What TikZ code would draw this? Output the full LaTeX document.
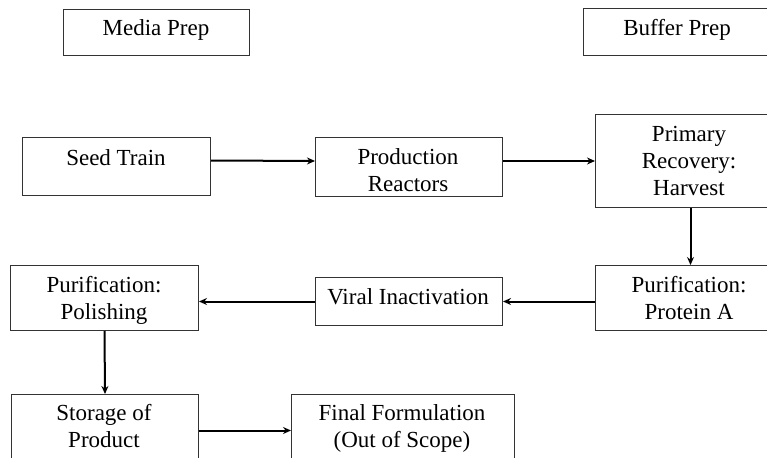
\documentclass[tikz,border=0pt]{standalone}
\usepackage{fontspec}
\setmainfont{Liberation Serif}
\usetikzlibrary{arrows.meta}
\begin{document}
\begin{tikzpicture}[x=1pt,y=-1pt,
 box/.style={draw=black!80, line width=1pt, anchor=north west, inner sep=0pt},
 lbl/.style={font=\fontsize{23}{27}\selectfont, align=center, anchor=base, inner sep=0pt},
 arr/.style={-{Stealth[length=8pt,width=7pt]}, line width=2pt}]
\useasboundingbox (0,0) rectangle (767,457);
\clip (0,0) rectangle (767,457);
% boxes
\node[box, minimum width=186pt, minimum height=46pt] (media) at (63,9) {};
\node[box, minimum width=200pt, minimum height=47pt] (buffer) at (583,8) {};
\node[box, minimum width=188pt, minimum height=58pt] (seed) at (22,137) {};
\node[box, minimum width=187pt, minimum height=59pt] (prod) at (315,137) {};
\node[box, minimum width=190pt, minimum height=93pt] (prim) at (595,114) {};
\node[box, minimum width=190pt, minimum height=65pt] (prota) at (595,265) {};
\node[box, minimum width=187pt, minimum height=48pt] (viral) at (315,277) {};
\node[box, minimum width=188pt, minimum height=65pt] (polish) at (10,265) {};
\node[box, minimum width=187pt, minimum height=72pt] (stor) at (11,394) {};
\node[box, minimum width=223pt, minimum height=72pt] (final) at (291,394) {};
% labels (base anchor = baseline of last line)
\node[lbl] (tmedia) at (156,36) {Media Prep};
\node[lbl] (tbuffer) at (677,36) {Buffer Prep};
\node[lbl] (tseed) at (116,165) {Seed Train};
\node[lbl] (tprod) at (408,191) {Production\\Reactors};
\node[lbl] (tprim) at (689,195) {Primary\\Recovery:\\Harvest};
\node[lbl] (tprota) at (689,319) {Purification:\\Protein A};
\node[lbl] (tviral) at (408,304) {Viral Inactivation};
\node[lbl] (tpolish) at (104,319) {Purification:\\Polishing};
\node[lbl] (tstor) at (104,447) {Storage of\\Product};
\node[lbl] (tfinal) at (402,447) {Final Formulation\\(Out of Scope)};
% connectors
\draw[arr] ([yshift=6pt]seed.east) -- ([yshift=6pt]prod.west);
\draw[arr] ([yshift=6pt]prod.east) -- (prim.west);
\draw[arr] (prim.south) -- (prota.north);
\draw[arr] (viral.east -| prota.west) -- (viral.east);
\draw[arr] (viral.west) -- (viral.west -| polish.east);
\draw[arr] (polish.south) -- (stor.north);
\draw[arr] (stor.east) -- (final.west);
\end{tikzpicture}
\end{document}
